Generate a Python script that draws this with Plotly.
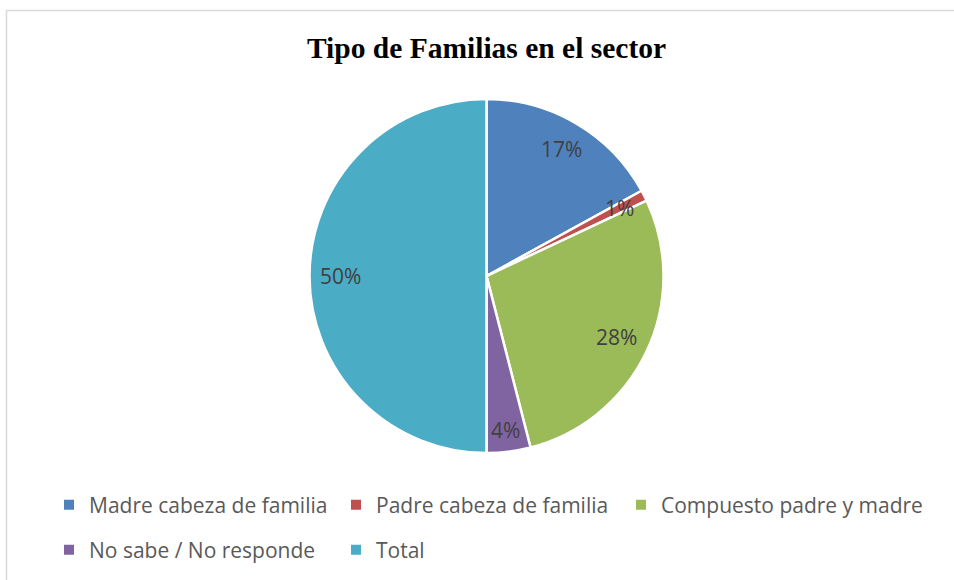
import math
import plotly.graph_objects as go

# Family types surveyed in the sector
categories = [
    "Madre cabeza de familia",
    "Padre cabeza de familia",
    "Compuesto padre y madre",
    "No sabe / No responde",
    "Total",
]
values = [17, 1, 28, 4, 50]
colors = ["#4F81BD", "#C0504D", "#9BBB59", "#8064A2", "#4BACC6"]

W, H = 954, 580
cx, cy, r = 486.5, 276, 177
label_size = 21

fig = go.Figure()

fig.add_trace(go.Pie(
    labels=categories,
    values=values,
    sort=False,
    direction="clockwise",
    rotation=0,
    marker=dict(colors=colors, line=dict(color="white", width=2.5)),
    textinfo="none",
    domain=dict(x=[(cx - r) / W, (cx + r) / W], y=[1 - (cy + r) / H, 1 - (cy - r) / H]),
    showlegend=False,
    hoverinfo="label+percent",
))

# Percentage labels placed near the outer edge of each slice
total = sum(values)
annotations = []
cum = 0
for v in values:
    mid = (cum + v / 2) / total * 2 * math.pi
    cum += v
    text = f"{round(100 * v / total)}%"
    half_w = 0.5 * label_size * (0.57 * (len(text) - 1) + 0.82)
    half_h = 0.5 * label_size
    extent = half_w * abs(math.sin(mid)) + half_h * abs(math.cos(mid))
    dist = r - 10 - extent
    px = cx + dist * math.sin(mid)
    py = cy - dist * math.cos(mid)
    annotations.append(dict(
        x=px / W, y=1 - py / H, xref="paper", yref="paper",
        text=text, showarrow=False, xanchor="center", yanchor="middle",
        font=dict(family="Open Sans", size=label_size, color="#404040"),
    ))

# Legend entries: first row split in two blocks so the long label is not clipped
legend_of = ["legend", "legend", "legend3", "legend2", "legend2"]
for name, color, lg in zip(categories, colors, legend_of):
    fig.add_trace(go.Scatter(
        x=[None], y=[None], mode="markers", name=name,
        marker=dict(symbol="square", size=10, color=color),
        legend=lg,
        hoverinfo="skip",
    ))

legend_style = dict(
    orientation="h",
    xanchor="left",
    yanchor="middle",
    font=dict(family="Open Sans", size=21, color="#595959"),
    entrywidth=242,
    entrywidthmode="pixels",
    bgcolor="rgba(0,0,0,0)",
    itemclick=False,
    itemdoubleclick=False,
)

fig.update_layout(
    width=W,
    height=H,
    margin=dict(l=0, r=0, t=0, b=0),
    paper_bgcolor="white",
    plot_bgcolor="white",
    title=dict(
        text="<b>Tipo de Familias en el sector</b>",
        font=dict(family="Liberation Serif", size=29.5, color="black"),
        x=cx / W, xanchor="center",
        y=1 - 48 / H, yanchor="middle",
    ),
    xaxis=dict(visible=False),
    yaxis=dict(visible=False),
    legend=dict(**legend_style, x=49 / W, y=1 - 505 / H),
    legend3=dict(**{**legend_style, "entrywidth": 280}, x=621 / W, y=1 - 505 / H),
    legend2=dict(**legend_style, x=49 / W, y=1 - 550 / H),
    annotations=annotations,
    shapes=[dict(
        type="rect", xref="paper", yref="paper",
        x0=6.5 / W, x1=1.05, y0=-0.05, y1=1 - 10.5 / H,
        line=dict(color="#D9D9D9", width=1.5),
        fillcolor="rgba(0,0,0,0)",
        layer="below",
    )],
)

fig.write_html("out.html")
